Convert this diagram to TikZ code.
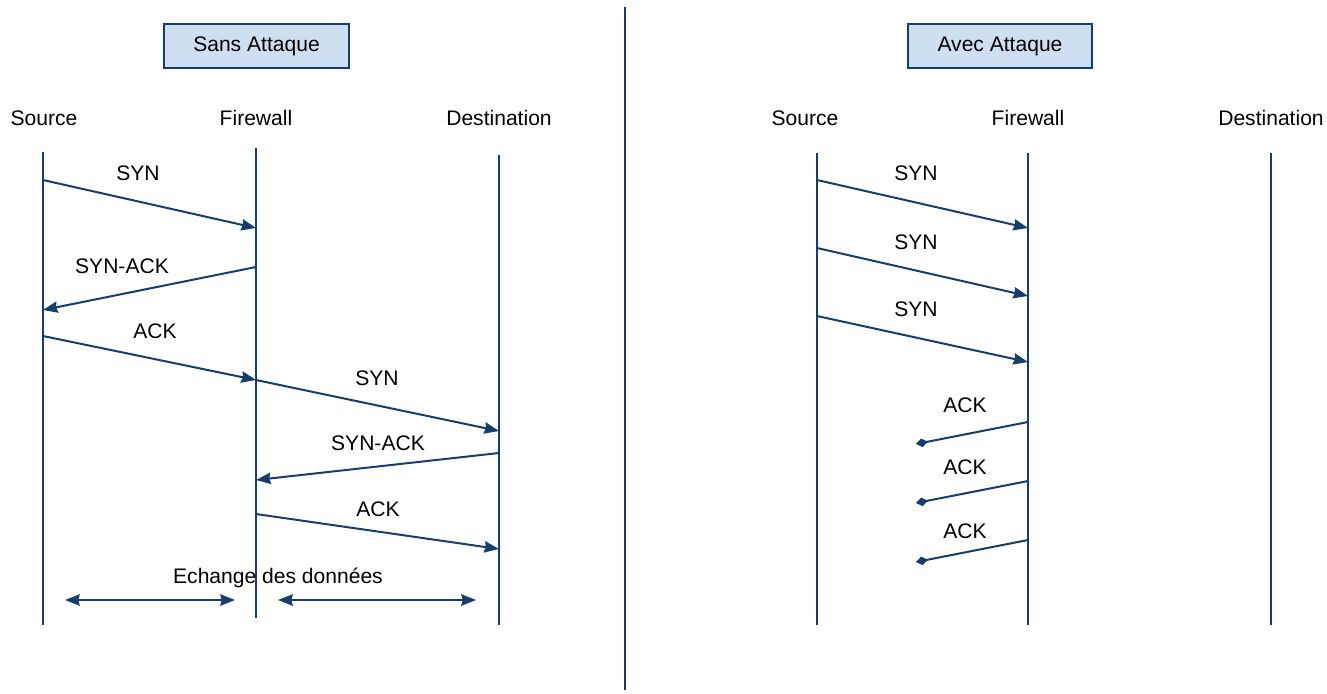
\documentclass[tikz,border=0pt]{standalone}
\usepackage{fontspec}
\setmainfont{Liberation Sans}
\usetikzlibrary{arrows.meta}
\definecolor{navy}{RGB}{22,62,108}
\definecolor{boxfill}{RGB}{206,223,242}
\begin{document}
\begin{tikzpicture}[x=0.75pt,y=-0.75pt,
  life/.style={draw=navy,line width=1.6pt},
  msg/.style={draw=navy,line width=1.5pt,-{Stealth[length=11pt,width=8.5pt,inset=1pt]}},
  lost/.style={draw=navy,line width=1.5pt,-{Diamond[length=9pt,width=6.5pt]}},
  both/.style={draw=navy,line width=1.5pt,{Stealth[length=11pt,width=8.5pt,inset=1pt]}-{Stealth[length=11pt,width=8.5pt,inset=1pt]}},
  lbl/.style={font=\fontsize{15.8pt}{18pt}\selectfont,inner sep=0pt},
  title/.style={draw=navy,line width=1.1pt,fill=boxfill,font=\fontsize{15.8pt}{18pt}\selectfont,minimum width=138.75pt,minimum height=33pt,inner sep=0pt}]
\useasboundingbox (0,0) rectangle (1327,693);
% divider
\coordinate (dt) at (625,7); \coordinate (db) at (625,690);
\draw[life] (dt) -- (db);
% titles
\node[title] (t1) at (256.5,46) {Sans Attaque};
\node[title,minimum width=138pt] (t2) at (1000,46) {Avec Attaque};
% headers
\node[lbl] (ls) at (44,118) {Source};
\node[lbl] (lf) at (256,118) {Firewall};
\node[lbl] (ld) at (499,118) {Destination};
\node[lbl] (rs) at (805,118) {Source};
\node[lbl] (rf) at (1028,118) {Firewall};
\node[lbl] (rd) at (1271,118) {Destination};
% lifelines left
\coordinate (ls1) at (43,152); \coordinate (ls2) at (43,625);
\coordinate (lf1) at (256,148); \coordinate (lf2) at (256,618);
\coordinate (ld1) at (499,155); \coordinate (ld2) at (499,625);
\draw[life] (ls1) -- (ls2);
\draw[life] (lf1) -- (lf2);
\draw[life] (ld1) -- (ld2);
% lifelines right
\coordinate (rs1) at (817,153); \coordinate (rs2) at (817,625);
\coordinate (rf1) at (1028,153); \coordinate (rf2) at (1028,625);
\coordinate (rd1) at (1271,153); \coordinate (rd2) at (1271,625);
\draw[life] (rs1) -- (rs2);
\draw[life] (rf1) -- (rf2);
\draw[life] (rd1) -- (rd2);
% left messages
\coordinate (a1) at (43,180); \coordinate (b1) at (256,228);
\draw[msg] (a1) -- (b1);
\node[lbl] (m1) at (138,173) {SYN};
\coordinate (a2) at (256,267); \coordinate (b2) at (43,310);
\draw[msg] (a2) -- (b2);
\node[lbl] (m2) at (122,266) {SYN-ACK};
\coordinate (a3) at (43,336); \coordinate (b3) at (256,380);
\draw[msg] (a3) -- (b3);
\node[lbl] (m3) at (155,331) {ACK};
\coordinate (a4) at (256,380); \coordinate (b4) at (499,431);
\draw[msg] (a4) -- (b4);
\node[lbl] (m4) at (377,378) {SYN};
\coordinate (a5) at (499,453); \coordinate (b5) at (256,480);
\draw[msg] (a5) -- (b5);
\node[lbl] (m5) at (378,443) {SYN-ACK};
\coordinate (a6) at (256,514); \coordinate (b6) at (499,549);
\draw[msg] (a6) -- (b6);
\node[lbl] (m6) at (378,509) {ACK};
\node[lbl] (ex) at (278,578) {Echange des donn\'ees};
\coordinate (e1) at (65,600); \coordinate (e2) at (235,600);
\coordinate (e3) at (278,600); \coordinate (e4) at (476,600);
\draw[both] (e1) -- (e2);
\draw[both] (e3) -- (e4);
% right messages
\coordinate (c1) at (817,180); \coordinate (d1) at (1028,228);
\draw[msg] (c1) -- (d1);
\node[lbl] (n1) at (916,173) {SYN};
\coordinate (c2) at (817,248); \coordinate (d2) at (1028,296);
\draw[msg] (c2) -- (d2);
\node[lbl] (n2) at (916,242) {SYN};
\coordinate (c3) at (817,316); \coordinate (d3) at (1028,362);
\draw[msg] (c3) -- (d3);
\node[lbl] (n3) at (916,309) {SYN};
\coordinate (f1) at (1028,422); \coordinate (g1) at (916,444);
\draw[lost] (f1) -- (g1);
\node[lbl] (k1) at (965,405) {ACK};
\coordinate (f2) at (1028,481); \coordinate (g2) at (916,503);
\draw[lost] (f2) -- (g2);
\node[lbl] (k2) at (965,467) {ACK};
\coordinate (f3) at (1028,540); \coordinate (g3) at (916,562);
\draw[lost] (f3) -- (g3);
\node[lbl] (k3) at (965,531) {ACK};
\end{tikzpicture}
\end{document}
